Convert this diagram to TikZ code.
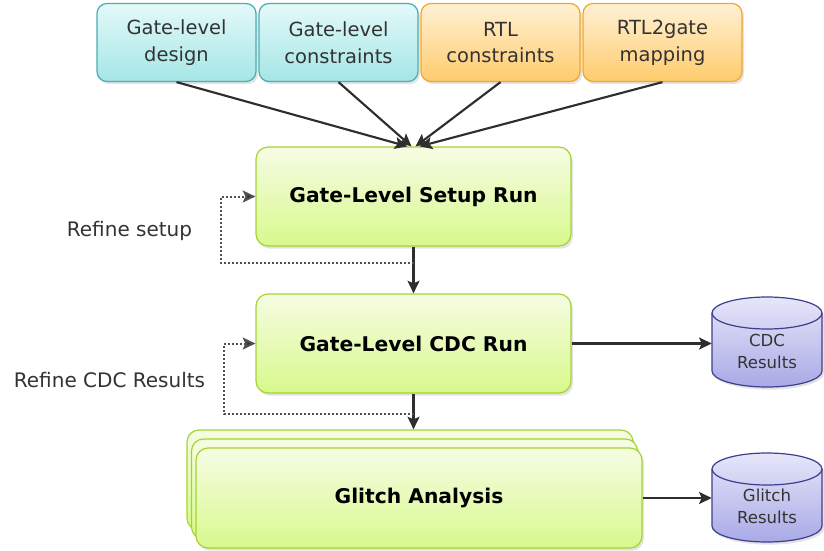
\documentclass[tikz,border=0pt]{standalone}
\usepackage{fontspec}
\setmainfont{DejaVu Sans}
\usetikzlibrary{arrows.meta,shadows}
\definecolor{tealtop}{HTML}{E4F9F9}
\definecolor{tealbot}{HTML}{A4E6E6}
\definecolor{tealdraw}{HTML}{4AAEB2}
\definecolor{orgtop}{HTML}{FFF1D4}
\definecolor{orgbot}{HTML}{FFCB6C}
\definecolor{orgdraw}{HTML}{F2A62A}
\definecolor{grntop}{HTML}{F6FCE4}
\definecolor{grnbot}{HTML}{D8F98C}
\definecolor{grndraw}{HTML}{A4D432}
\definecolor{cyltop}{HTML}{E6E6FA}
\definecolor{cylbot}{HTML}{A9A9E6}
\definecolor{cyldraw}{HTML}{3E3E8E}
\definecolor{txtgray}{HTML}{333333}
\definecolor{arrowgray}{HTML}{2E2E2E}
\definecolor{dotgray}{HTML}{505050}
\begin{document}
\begin{tikzpicture}[x=0.75pt,y=-0.75pt,
  shadowed/.style={drop shadow={opacity=0.22,shadow xshift=1.5pt,shadow yshift=-2pt}},
  inbox/.style={rounded corners=7.5pt,minimum width=119.25pt,minimum height=58.5pt,
    align=center,font=\fontsize{14.6}{20}\selectfont,text=txtgray,line width=0.9pt,shadowed},
  tealbox/.style={inbox,draw=tealdraw,top color=tealtop,bottom color=tealbot},
  orangebox/.style={inbox,draw=orgdraw,top color=orgtop,bottom color=orgbot},
  runbox/.style={rounded corners=9pt,draw=grndraw,top color=grntop,bottom color=grnbot,
    line width=0.9pt,minimum width=236.25pt,minimum height=74.25pt,
    font=\bfseries\fontsize{15.2}{18}\selectfont,text=black,shadowed},
  glitchbox/.style={runbox,minimum width=334.5pt,minimum height=75pt},
  flow/.style={draw=arrowgray,line width=1.6pt,-{Stealth[length=9.5pt,width=9pt,inset=2pt]}},
  loopline/.style={draw=dotgray,line width=1.5pt,dash pattern=on 1.5pt off 1.5pt,
    -{Stealth[length=9.5pt,width=9pt,inset=2pt,fill=arrowgray]}},
  cylbody/.style={draw=cyldraw,line width=0.9pt,top color=cyltop,bottom color=cylbot,shadowed},
  cyltext/.style={font=\fontsize{12.4}{16.5}\selectfont,text=txtgray,align=center,minimum width=82.5pt,inner sep=0pt},
  lbl/.style={font=\fontsize{15}{18}\selectfont,text=txtgray}
]
\useasboundingbox (0,0) rectangle (824,550);

% input boxes
\node[tealbox] (gd) at (176.5,42.5) {Gate-level\\design};
\node[tealbox] (gc) at (338.5,42.5) {Gate-level\\constraints};
\node[orangebox] (rc) at (500.5,42.5) {RTL\\constraints};
\node[orangebox] (rm) at (662.5,42.5) {RTL2gate\\mapping};

% run boxes
\node[runbox] (setup) at (413.5,196.5) {Gate-Level Setup Run};
\node[runbox] (cdc) at (413.5,343.5) {Gate-Level CDC Run};

% glitch stack
\node[glitchbox] (gl3) at (410,480) {};
\node[glitchbox] (gl2) at (414.5,489) {};
\node[glitchbox] (glitch) at (419,498) {Glitch Analysis};

% cylinders
\path[cylbody] (712,313) -- (712,371) arc[start angle=180,end angle=0,x radius=55,y radius=16]
  -- (822,313) arc[start angle=0,end angle=-180,x radius=55,y radius=16] -- cycle;
\draw[cyldraw,line width=0.9pt] (712,313) arc[start angle=180,end angle=0,x radius=55,y radius=16];
\node[cyltext] (cdcres) at (767,351) {CDC\\Results};

\path[cylbody] (712,469) -- (712,526) arc[start angle=180,end angle=0,x radius=55,y radius=16]
  -- (822,469) arc[start angle=0,end angle=-180,x radius=55,y radius=16] -- cycle;
\draw[cyldraw,line width=0.9pt] (712,469) arc[start angle=180,end angle=0,x radius=55,y radius=16];
\node[cyltext] (glres) at (767,506) {Glitch\\Results};

% labels
\node[lbl] (l1) at (129.5,231) {Refine setup};
\node[lbl] (l2) at (109.5,380) {Refine CDC Results};

% input arrows
\draw[flow] (gd.south) -- ([xshift=-4.5pt]setup.north);
\draw[flow] (gc.south) -- ([xshift=-1.5pt]setup.north);
\draw[flow] (rc.south) -- ([xshift=1.5pt]setup.north);
\draw[flow] (rm.south) -- ([xshift=4.5pt]setup.north);

% main flow
\draw[flow] (setup.south) -- (cdc.north);
\draw[flow] (cdc.south) -- (cdc.south |- gl3.north);
\draw[flow] (cdc.east) -- (cdcres.west |- cdc.east);
\draw[flow] (glitch.east) -- (glres.west |- glitch.east);

% feedback loops
\coordinate (j1) at (413.5,263);
\coordinate (b1) at (221,263);
\draw[loopline] (j1) -- (b1) |- (setup.west);
\coordinate (j2) at (413.5,414);
\coordinate (b2) at (224,414);
\draw[loopline] (j2) -- (b2) |- (cdc.west);
\end{tikzpicture}
\end{document}
